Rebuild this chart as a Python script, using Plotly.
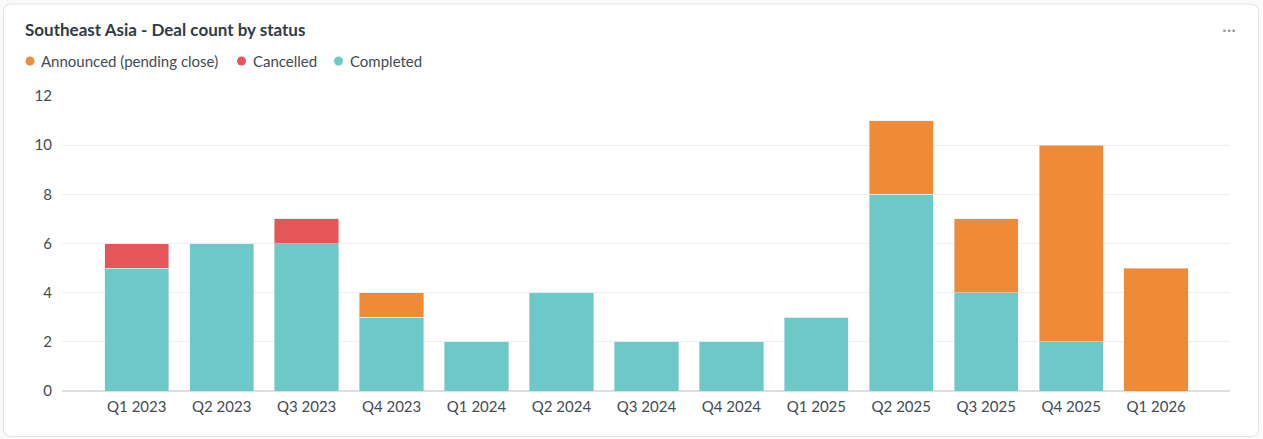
import plotly.graph_objects as go

quarters = ["Q1 2023", "Q2 2023", "Q3 2023", "Q4 2023", "Q1 2024", "Q2 2024", "Q3 2024",
            "Q4 2024", "Q1 2025", "Q2 2025", "Q3 2025", "Q4 2025", "Q1 2026"]
completed = [5, 6, 6, 3, 2, 4, 2, 2, 3, 8, 4, 2, 0]
cancelled = [1, 0, 1, 0, 0, 0, 0, 0, 0, 0, 0, 0, 0]
announced = [0, 0, 0, 1, 0, 0, 0, 0, 0, 3, 3, 8, 5]

legend_names = ["Announced (pending close)", "Cancelled", "Completed"]

C_ANN = "#ef8a36"
C_CAN = "#e65557"
C_COM = "#6cc9c8"
FONT = "Lato"
TXT = "#434b54"

fig = go.Figure()
fig.add_bar(x=quarters, y=completed, marker_color=C_COM, name="Completed", showlegend=False)
fig.add_bar(x=quarters, y=cancelled, marker_color=C_CAN, name="Cancelled", showlegend=False)
fig.add_bar(x=quarters, y=announced, marker_color=C_ANN, name="Announced (pending close)", showlegend=False)

L, R, T, B = 62, 33, 96, 48
W, H = 1263, 439
pw, ph = W - L - R, H - T - B

def px(x):
    return (x - L) / pw

def py(y):
    return (H - B - y) / ph

# rounded card
x0, x1, y0, y1 = px(3.5), px(1258.5), py(436.5), py(4)
rx, ry = 8 / pw, 8 / ph
path = (f"M {x0+rx},{y1} L {x1-rx},{y1} Q {x1},{y1} {x1},{y1-ry} "
        f"L {x1},{y0+ry} Q {x1},{y0} {x1-rx},{y0} L {x0+rx},{y0} "
        f"Q {x0},{y0} {x0},{y0+ry} L {x0},{y1-ry} Q {x0},{y1} {x0+rx},{y1} Z")

shapes = [dict(type="path", xref="paper", yref="paper", path=path,
               fillcolor="white", line=dict(color="#e2e2e4", width=1), layer="below")]
annotations = [
    dict(text="<b>Southeast Asia - Deal count by status</b>", xref="paper", yref="paper",
         x=px(23), y=py(29), xanchor="left", yanchor="middle", showarrow=False,
         font=dict(family=FONT, size=17, color="#323b45")),
    dict(text="···", xref="paper", yref="paper", x=px(1229), y=py(29),
         xanchor="center", yanchor="middle", showarrow=False,
         font=dict(family=FONT, size=18, color="#9a9a9a")),
]

# custom legend (circle markers)
legend_colors = [C_ANN, C_CAN, C_COM]
dot_x = [30, 241.5, 338.5]
for name, col, dx in zip(legend_names, legend_colors, dot_x):
    shapes.append(dict(type="circle", xref="paper", yref="paper",
                       xsizemode="pixel", ysizemode="pixel",
                       xanchor=px(dx), yanchor=py(61), x0=-4.5, x1=4.5, y0=-4.5, y1=4.5,
                       fillcolor=col, line=dict(width=0)))
    annotations.append(dict(text=name, xref="paper", yref="paper", x=px(dx + 9), y=py(61.5),
                            xanchor="left", yanchor="middle", showarrow=False,
                            font=dict(family=FONT, size=15, color=TXT)))

fig.update_layout(
    width=W, height=H,
    margin=dict(l=L, r=R, t=T, b=B),
    barmode="stack", bargap=0.243,
    paper_bgcolor="#fafafa", plot_bgcolor="rgba(0,0,0,0)",
    font=dict(family=FONT, size=15, color=TXT),
    shapes=shapes,
    annotations=annotations,
    showlegend=False,
    xaxis=dict(showgrid=False, ticks="", tickfont=dict(size=15, color=TXT), showline=False,
               ticklabelstandoff=5, range=[-0.88, 12.87]),
    yaxis=dict(range=[0, 12], dtick=2, gridcolor="#eeeeee", zeroline=True,
               zerolinecolor="#dedede", zerolinewidth=1.5, ticks="", ticklabelstandoff=9,
               tickfont=dict(size=15, color=TXT)),
)

fig.write_html("out.html", config={"displayModeBar": False},
               post_script="document.body.style.margin='0';document.body.style.overflow='hidden';")
